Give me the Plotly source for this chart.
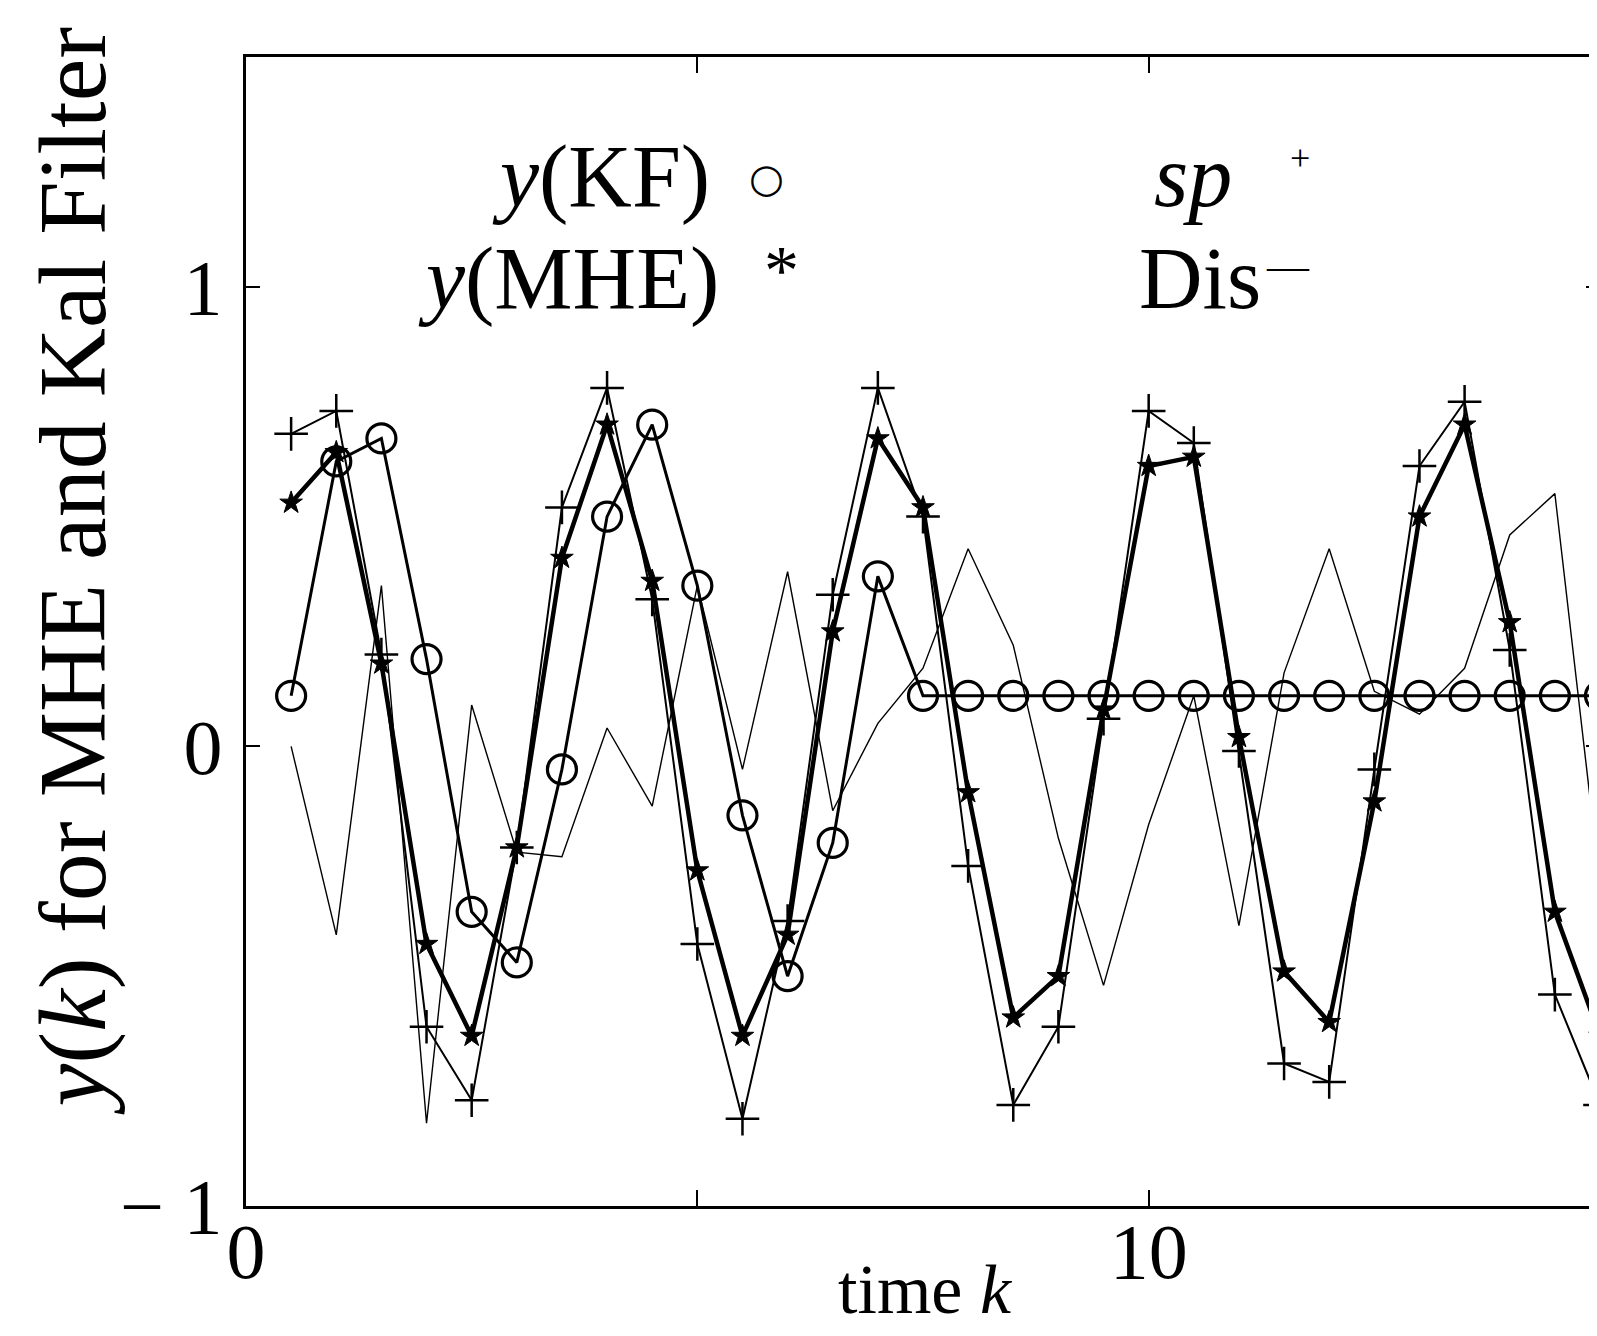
import plotly.graph_objects as go

# time samples
time_k = [0.5, 1.0, 1.5, 2.0, 2.5, 3.0, 3.5, 4.0, 4.5, 5.0,
          5.5, 6.0, 6.5, 7.0, 7.5, 8.0, 8.5, 9.0, 9.5, 10.0,
          10.5, 11.0, 11.5, 12.0, 12.5, 13.0, 13.5, 14.0, 14.5, 15.0]

y_kf = [0.11, 0.62, 0.67, 0.19, -0.36, -0.47, -0.05, 0.50, 0.70, 0.35,
        -0.15, -0.50, -0.21, 0.37, 0.11, 0.11, 0.11, 0.11, 0.11, 0.11,
        0.11, 0.11, 0.11, 0.11, 0.11, 0.11, 0.11, 0.11, 0.11, 0.11]

y_mhe = [0.53, 0.64, 0.18, -0.43, -0.63, -0.22, 0.41, 0.70, 0.36, -0.27,
         -0.63, -0.41, 0.25, 0.67, 0.52, -0.10, -0.59, -0.50, 0.08, 0.61,
         0.63, 0.02, -0.49, -0.60, -0.12, 0.50, 0.70, 0.27, -0.36, -0.63]

sp = [0.68, 0.73, 0.20, -0.61, -0.77, -0.22, 0.52, 0.78, 0.32, -0.43,
      -0.81, -0.38, 0.33, 0.78, 0.50, -0.26, -0.78, -0.61, 0.06, 0.73,
      0.66, -0.01, -0.69, -0.73, -0.05, 0.61, 0.75, 0.21, -0.54, -0.78]

dis = [0.00, -0.41, 0.35, -0.82, 0.09, -0.23, -0.24, 0.04, -0.13, 0.35,
       -0.05, 0.38, -0.14, 0.05, 0.17, 0.43, 0.22, -0.20, -0.52, -0.17,
       0.11, -0.39, 0.16, 0.43, 0.12, 0.07, 0.17, 0.46, 0.55, -0.30]

x_tickvals = [0, 5, 10]
x_ticktext = ["0", "", "10"]
y_tickvals = [-1, 0, 1]
y_ticktext = ["\u2212 1", "0", "1"]

SERIF = "Liberation Serif"
BLACK = "#000000"

# plot-area geometry (px)
L, R, T, B = 238, 2, 49, 138
W, H = 1597, 1336
PW, PH = W - L - R, H - T - B


def px(xp):
    return (xp - L) / PW


def py(yp):
    return (H - B - yp) / PH


fig = go.Figure()

fig.add_trace(go.Scatter(x=time_k, y=dis, mode="lines",
                         line=dict(color=BLACK, width=1.4), name="Dis"))
fig.add_trace(go.Scatter(x=time_k, y=sp, mode="lines+markers",
                         line=dict(color=BLACK, width=2),
                         marker=dict(symbol="cross-thin-open", size=24,
                                     line=dict(color=BLACK, width=2.5)),
                         name="sp"))
fig.add_trace(go.Scatter(x=time_k, y=y_kf, mode="lines+markers",
                         line=dict(color=BLACK, width=3),
                         marker=dict(symbol="circle-open", size=29,
                                     line=dict(color=BLACK, width=3.2)),
                         name="y(KF)"))
fig.add_trace(go.Scatter(x=time_k, y=y_mhe, mode="lines+markers",
                         line=dict(color=BLACK, width=4.5),
                         marker=dict(symbol="star", size=17, color=BLACK,
                                     line=dict(color=BLACK, width=1)),
                         name="y(MHE)"))

fig.update_layout(
    width=W, height=H,
    margin=dict(l=L, r=R, t=T, b=B),
    paper_bgcolor="white", plot_bgcolor="white",
    showlegend=False,
    font=dict(family=SERIF, color=BLACK),
)

fig.update_xaxes(range=[0, 15], tickvals=x_tickvals, ticktext=x_ticktext,
                 showgrid=False, zeroline=False, showline=True,
                 linecolor=BLACK, linewidth=3, mirror="allticks",
                 ticks="inside", ticklen=16, tickwidth=2, tickcolor=BLACK,
                 tickfont=dict(family=SERIF, size=78, color=BLACK),
                 ticklabelstandoff=-25)
fig.update_yaxes(range=[-1, 1.5], tickvals=y_tickvals, ticktext=y_ticktext,
                 showgrid=False, zeroline=False, showline=True,
                 linecolor=BLACK, linewidth=3, mirror="allticks",
                 ticks="inside", ticklen=14, tickwidth=2, tickcolor=BLACK,
                 tickfont=dict(family=SERIF, size=78, color=BLACK),
                 ticklabelstandoff=5)

ann = []
# axis titles
ann.append(dict(text="<i>y</i>(<i>k</i>) for MHE and Kal Filter", xref="paper", yref="paper",
                x=px(64), y=py(563), xanchor="center", yanchor="middle",
                textangle=-90, showarrow=False,
                font=dict(family=SERIF, size=96, color=BLACK)))
ann.append(dict(text="time <i>k</i>", xref="paper", yref="paper",
                x=px(919), y=py(1322), xanchor="center", yanchor="bottom",
                showarrow=False,
                font=dict(family=SERIF, size=70, color=BLACK)))
# legend as text
leg_font = dict(family=SERIF, size=88, color=BLACK)
ann.append(dict(text="<i>y</i>(KF)", x=px(705), y=py(168),
                xref="paper", yref="paper", xanchor="right", yanchor="middle",
                showarrow=False, font=leg_font))
ann.append(dict(text="\u25cb", x=px(760), y=py(170),
                xref="paper", yref="paper", xanchor="center", yanchor="middle",
                showarrow=False, font=dict(family="DejaVu Sans", size=40, color=BLACK)))
ann.append(dict(text="<i>y</i>(MHE)", x=px(714), y=py(270),
                xref="paper", yref="paper", xanchor="right", yanchor="middle",
                showarrow=False, font=leg_font))
ann.append(dict(text="*", x=px(775), y=py(262),
                xref="paper", yref="paper", xanchor="center", yanchor="middle",
                showarrow=False, font=dict(family=SERIF, size=70, color=BLACK)))
ann.append(dict(text="<i>sp</i>", x=px(1146), y=py(168),
                xref="paper", yref="paper", xanchor="left", yanchor="middle",
                showarrow=False, font=leg_font))
ann.append(dict(text="+", x=px(1294), y=py(150),
                xref="paper", yref="paper", xanchor="center", yanchor="middle",
                showarrow=False, font=dict(family=SERIF, size=36, color=BLACK)))
ann.append(dict(text="Dis", x=px(1131), y=py(270),
                xref="paper", yref="paper", xanchor="left", yanchor="middle",
                showarrow=False, font=leg_font))
ann.append(dict(text="\u2014", x=px(1282), y=py(258),
                xref="paper", yref="paper", xanchor="center", yanchor="middle",
                showarrow=False, font=dict(family=SERIF, size=42, color=BLACK)))
fig.update_layout(annotations=ann)

fig.write_html("out.html")
